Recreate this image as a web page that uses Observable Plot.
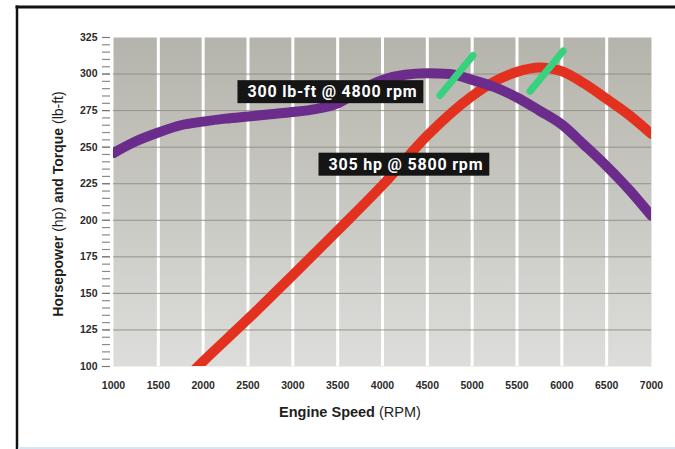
<!DOCTYPE html>
<html><head><meta charset="utf-8">
<script src="https://cdn.jsdelivr.net/npm/d3@7"></script>
<script src="https://cdn.jsdelivr.net/npm/@observablehq/plot@0.6"></script>
<style>
body{margin:0;background:#fff;}
#chart{position:relative;width:675px;height:449px;overflow:hidden;background:#fff;}
</style></head><body><div id="chart"></div>
<script>
// Torque curve (lb-ft) vs engine speed (RPM)
const rpmTorque = [1000,1250,1500,1750,2000,2250,2500,2750,3000,3250,3500,3750,4000,4250,4500,4750,5000,5250,5500,5750,6000,6250,6500,6750,7000];
const torque    = [246, 254, 260, 265, 267.5,269.5,271, 272.5,274, 276, 280, 289, 296, 299.5,300.5,300, 296, 291, 284, 275, 265.5,251.5,237, 221, 203];
// Horsepower curve (hp) vs engine speed (RPM)
const rpmPower = [1900,2000,2500,3000,3500,4000,4500,5000,5250,5500,5750,6000,6250,6500,6750,7000];
const power    = [97.5,103.5,132.5,162.5,193,224,258,285,295,301.5,304.5,302,293.5,283,272,259];
// Axes
const xTicks = d3.range(1000, 7001, 500);
const yTicks = d3.range(100, 326, 25);
const yMinor = d3.range(100, 326, 5);
const whiteLines = d3.range(1500, 6501, 500);
const gridLines = d3.range(125, 301, 25);
// Annotations
const labelTexts = ["300 lb-ft @ 4800 rpm", "305 hp @ 5800 rpm"];
const labelRpm = [2494, 3398];
const labelValue = [287.7, 238.1];
const markerRpm = [4825, 5830];
const markerValue = [299, 302];

const torqueData = rpmTorque.map((r, i) => ({rpm: r, v: torque[i]}));
const powerData = rpmPower.map((r, i) => ({rpm: r, v: power[i]}));
const labels = labelTexts.map((t, i) => ({rpm: labelRpm[i], v: labelValue[i], text: t}));
const markers = markerRpm.map((r, i) => ({rpm: r, v: markerValue[i]}));

const lineShape = {draw(context, l, r) { context.moveTo(0, 0); context.lineTo(0, -l); }};

const svg = Plot.plot({
  width: 675, height: 449,
  marginLeft: 113, marginRight: 24, marginTop: 37, marginBottom: 83,
  x: {domain: [1000, 7000]},
  y: {domain: [100, 325]},
  style: {fontFamily: "'Liberation Sans', Arial, sans-serif", background: "transparent", overflow: "visible"},
  marks: [
    Plot.frame({fill: "url(#bgGrad)", stroke: null}),
    Plot.ruleX(whiteLines, {stroke: "#ffffff", strokeWidth: 3}),
    Plot.ruleY(gridLines, {stroke: "#8c8c85", strokeWidth: 0.9}),
    Plot.axisY(yMinor, {tickSize: 8, dx: -3, tickFormat: () => "", label: null, stroke: "#8a8a8a", strokeWidth: 1.2}),
    Plot.axisY(yTicks, {tickSize: 8, dx: -3, tickPadding: 5, label: null, fontSize: 10.5, fontWeight: "bold", fill: "#2b2b2b", stroke: "#777"}),
    Plot.axisX(xTicks, {tickSize: 0, tickPadding: 15, label: null, fontSize: 10.5, fontWeight: "bold", fill: "#2b2b2b", tickFormat: d => String(d)}),
    Plot.line(powerData, {x: "rpm", y: "v", stroke: "#e2321f", strokeWidth: 10, curve: "monotone-x", clip: true}),
    Plot.line(torqueData, {x: "rpm", y: "v", stroke: "#6b2c8c", strokeWidth: 10, curve: "monotone-x", clip: true}),
    Plot.vector(markers, {x: "rpm", y: "v", length: 52, rotate: 39.5, anchor: "middle", stroke: "#36d27e", strokeWidth: 7, shape: lineShape}),
    Plot.text(labels, {x: "rpm", y: "v", text: "text", textAnchor: "start", fill: "#ffffff", fontSize: 16, fontWeight: "bold", fontFamily: "Roboto, 'Liberation Sans', sans-serif", className: "tag"})
  ]
});

const ns = "http://www.w3.org/2000/svg";
const defs = document.createElementNS(ns, "defs");
defs.innerHTML = '<linearGradient id="bgGrad" x1="0" y1="0" x2="0" y2="1"><stop offset="0" stop-color="#b5b4ac"/><stop offset="0.5" stop-color="#c8c8c2"/><stop offset="1" stop-color="#dddddb"/></linearGradient>';
svg.insertBefore(defs, svg.firstChild);

document.getElementById("chart").appendChild(svg);

// Black boxes behind annotation labels
svg.querySelectorAll("g.tag text").forEach(t => {
  t.setAttribute("letter-spacing", "0.8");
  const b = t.getBBox();
  const r = document.createElementNS(ns, "rect");
  const cy = b.y + b.height / 2;
  r.setAttribute("x", b.x - 10);
  r.setAttribute("y", cy - 11.5);
  r.setAttribute("width", b.width + 16);
  r.setAttribute("height", 23);
  r.setAttribute("fill", "#151515");
  if (t.getAttribute("transform")) r.setAttribute("transform", t.getAttribute("transform"));
  t.parentNode.insertBefore(r, t);
});

function addText(parent, attrs, parts) {
  const el = document.createElementNS(ns, "text");
  for (const k in attrs) el.setAttribute(k, attrs[k]);
  parts.forEach(([s, w]) => {
    const ts = document.createElementNS(ns, "tspan");
    ts.setAttribute("font-weight", w);
    ts.textContent = s;
    el.appendChild(ts);
  });
  parent.appendChild(el);
  return el;
}
addText(svg, {x: 350, y: 417, "text-anchor": "middle", "font-size": 14.5, fill: "#1e1e1e", "font-family": "'Liberation Sans', Arial, sans-serif"},
  [["Engine Speed", "bold"], [" (RPM)", "normal"]]);
addText(svg, {transform: "translate(58,204) rotate(-90)", "text-anchor": "middle", "dominant-baseline": "central", "font-size": 14, fill: "#1e1e1e", "font-family": "'Liberation Sans', Arial, sans-serif"},
  [["Horsepower", "bold"], [" (hp) ", "normal"], ["and Torque", "bold"], [" (lb-ft)", "normal"]]);

// Page frame
function addLine(x1, y1, x2, y2, stroke, w) {
  const l = document.createElementNS(ns, "line");
  l.setAttribute("x1", x1); l.setAttribute("y1", y1); l.setAttribute("x2", x2); l.setAttribute("y2", y2);
  l.setAttribute("stroke", stroke); l.setAttribute("stroke-width", w);
  svg.appendChild(l);
}
addLine(15.5, 7, 675, 7, "#111", 3);
addLine(17, 5.5, 17, 449, "#111", 2.5);
addLine(18, 448, 675, 448, "#d6e6f2", 2);
</script></body></html>
